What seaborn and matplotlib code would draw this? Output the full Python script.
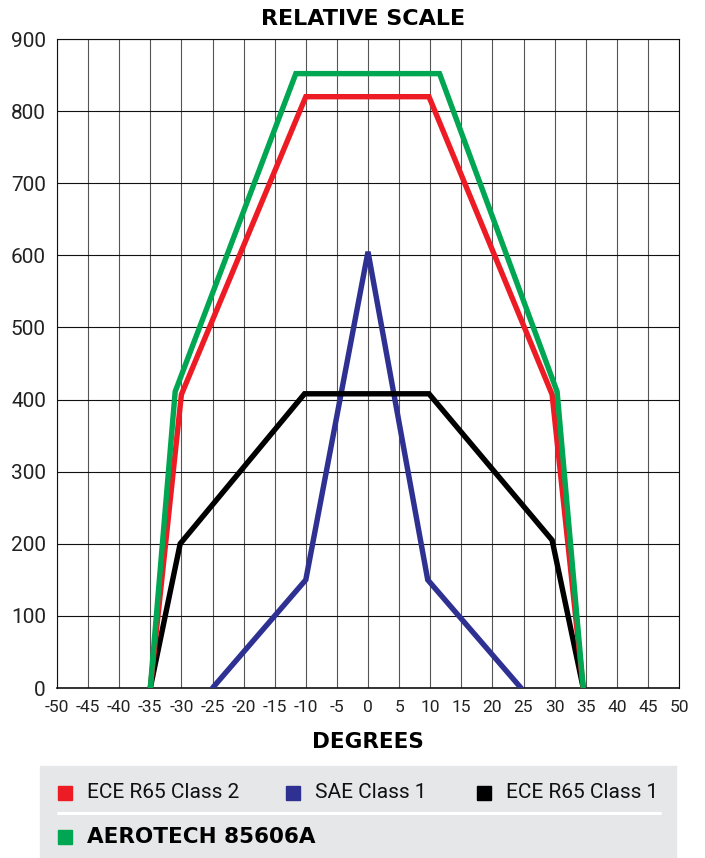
import seaborn as sns
import matplotlib.pyplot as plt
import pandas as pd
from matplotlib.patches import Rectangle
from matplotlib.lines import Line2D

# values
aerotech_x = [-35, -31, -11.6, 11.5, 30.4, 34.6]
aerotech_y = [0, 411, 852, 852, 411, 0]

ece2_x = [-35, -30, -10, 9.8, 29.6, 34.6]
ece2_y = [0, 407, 820, 820, 407, 0]

ece1_x = [-35, -30.2, -10.2, 9.8, 29.6, 34.6]
ece1_y = [0, 200, 408, 408, 205, 0]

sae_x = [-25, -10, 0, 9.6, 24.6]
sae_y = [0, 150, 605, 150, 0]

x_ticks = list(range(-50, 51, 5))
y_ticks = list(range(0, 901, 100))

RED = '#ed1c24'
GREEN = '#00a651'
BLUE = '#2e3192'
BLACK = '#000000'

sns.set_style("white")
plt.rcParams['font.family'] = ['Roboto', 'DejaVu Sans']
BOLD_FONT = ['DejaVu Sans']


def series_df(xs, ys):
    return pd.DataFrame({'deg': xs, 'val': ys})


def main():
    fig = plt.figure(figsize=(7.05, 8.58), dpi=100)
    ax = fig.add_axes([57 / 705, 1 - 688 / 858, 622 / 705, 649 / 858])

    # grid
    for x in x_ticks:
        ax.axvline(x, color='#555555', lw=0.8, zorder=0)
    for y in y_ticks:
        ax.axhline(y, color='#111111', lw=0.8, zorder=0)

    lw = 3.9
    sns.lineplot(data=series_df(sae_x, sae_y), x='deg', y='val', color=BLUE,
                 lw=lw, sort=False, ax=ax, solid_joinstyle='miter', zorder=3)
    sns.lineplot(data=series_df(ece1_x, ece1_y), x='deg', y='val', color=BLACK,
                 lw=lw, sort=False, ax=ax, solid_joinstyle='miter', zorder=3)
    sns.lineplot(data=series_df(ece2_x, ece2_y), x='deg', y='val', color=RED,
                 lw=lw, sort=False, ax=ax, solid_joinstyle='miter', zorder=4)
    sns.lineplot(data=series_df(aerotech_x, aerotech_y), x='deg', y='val', color=GREEN,
                 lw=lw, sort=False, ax=ax, solid_joinstyle='miter', zorder=5)

    ax.set_xlim(-50, 50)
    ax.set_ylim(0, 900)
    ax.set_xticks(x_ticks)
    ax.set_yticks(y_ticks)
    ax.set_xticklabels([str(t) for t in x_ticks], fontsize=12.5, color='#222222')
    ax.set_yticklabels([str(t) for t in y_ticks], fontsize=15, color='#222222')
    ax.tick_params(length=0)
    ax.tick_params(axis='x', pad=9)
    ax.tick_params(axis='y', pad=8)
    ax.set_xlabel('DEGREES', fontsize=15.5, fontweight='bold', family=BOLD_FONT,
                  labelpad=12, color='#000000')
    ax.set_ylabel('')
    for s in ax.spines.values():
        s.set_color('#111111')
        s.set_linewidth(0.8)
    ax.spines['bottom'].set_linewidth(1.2)

    fig.text(363 / 705, 1 - 19 / 858, 'RELATIVE SCALE', ha='center', va='center',
             fontsize=16, fontweight='bold', family=BOLD_FONT, color='#000000')

    # legend box
    fig.add_artist(Rectangle((40 / 705, 0), 636 / 705, 92 / 858,
                             transform=fig.transFigure, color='#e6e7e8', zorder=0))
    fig.add_artist(Line2D([58 / 705, 660 / 705], [1 - 813 / 858] * 2,
                          transform=fig.transFigure, color='white', lw=2.2))
    items = [(65, 793, RED, 'ECE R65 Class 2'),
             (293, 793, BLUE, 'SAE Class 1'),
             (484, 793, BLACK, 'ECE R65 Class 1')]
    for px, py, c, label in items:
        fig.add_artist(Rectangle(((px - 7) / 705, 1 - (py + 7) / 858), 14 / 705, 14 / 858,
                                 transform=fig.transFigure, color=c))
        fig.text((px + 22) / 705, 1 - py / 858, label, ha='left', va='center',
                 fontsize=15, color='#111111')
    fig.add_artist(Rectangle((58 / 705, 1 - 844 / 858), 14 / 705, 14 / 858,
                             transform=fig.transFigure, color=GREEN))
    fig.text(87 / 705, 1 - 837 / 858, 'AEROTECH 85606A', ha='left', va='center',
             fontsize=15.5, fontweight='bold', family=BOLD_FONT, color='#000000')

    plt.savefig('out.png', dpi=100)


if __name__ == "__main__":
    main()
